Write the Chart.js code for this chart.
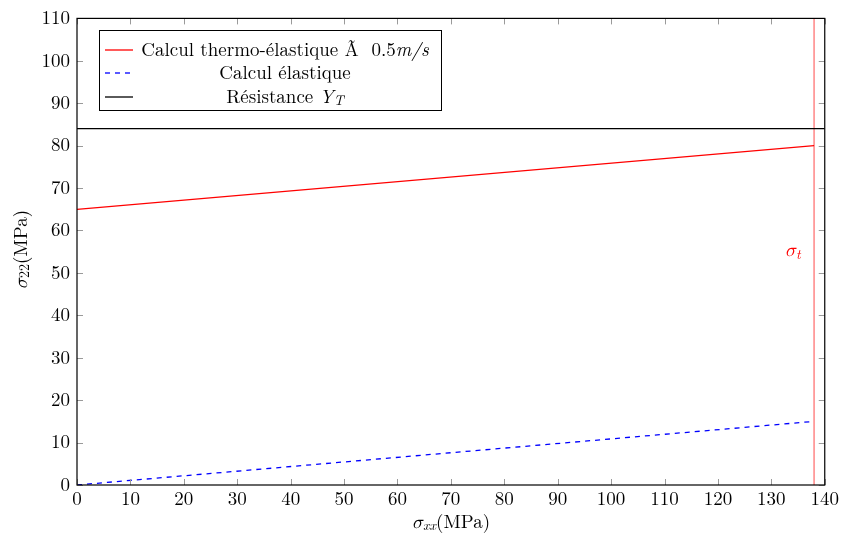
<!DOCTYPE html>
<html><head><meta charset="utf-8">
<script src="https://cdn.jsdelivr.net/npm/chart.js@4"></script>
<style>html,body{margin:0;padding:0;background:#fff}</style>
</head><body>
<canvas id="c" width="842" height="535"></canvas>
<script>
// Data
const thermoX = [0, 138];
const thermoY = [65, 80];
const elasticX = [0, 138];
const elasticY = [0, 15];
const resistanceY = 84;
const sigmaTX = 138;
const xTicks = [0,10,20,30,40,50,60,70,80,90,100,110,120,130,140];
const yTicks = [0,10,20,30,40,50,60,70,80,90,100,110];
const legendLabels = ["Calcul thermo-élastique Ã  0.5", "Calcul élastique", "Résistance"];

const SERIF = "'Latin Modern Roman', 'Latin Modern Math', 'Liberation Serif', serif";
const FS = 19;
const TS = 19;

function drawRich(ctx, segs, cx, cy) {
  let total = 0;
  segs.forEach(s => { ctx.font = s.font; s.w = ctx.measureText(s.t).width; total += s.w; });
  let x = cx - total / 2;
  ctx.textBaseline = 'middle';
  ctx.textAlign = 'left';
  segs.forEach(s => { ctx.font = s.font; ctx.fillText(s.t, x, cy + (s.dy || 0)); x += s.w; });
}
const reg = TS + "px " + SERIF;
const ita = "italic " + TS + "px " + SERIF;
const sub = "italic 14px " + SERIF;
const subR = "14px " + SERIF;

const framePlugin = {
  id: 'frame',
  afterDatasetsDraw(chart) {
    const ctx = chart.ctx, a = chart.chartArea;
    const xs = chart.scales.x, ys = chart.scales.y;
    ctx.save();
    // ticks
    ctx.strokeStyle = '#9a9a9a';
    ctx.lineWidth = 1;
    ctx.beginPath();
    xTicks.forEach(v => {
      const px = Math.round(xs.getPixelForValue(v)) + 0.5;
      ctx.moveTo(px, a.bottom); ctx.lineTo(px, a.bottom - 6);
      ctx.moveTo(px, a.top); ctx.lineTo(px, a.top + 6);
    });
    yTicks.forEach(v => {
      const py = Math.round(ys.getPixelForValue(v)) + 0.5;
      ctx.moveTo(a.left, py); ctx.lineTo(a.left + 6, py);
      ctx.moveTo(a.right, py); ctx.lineTo(a.right - 6, py);
    });
    ctx.stroke();
    // frame
    ctx.strokeStyle = '#000';
    ctx.lineWidth = 1.2;
    ctx.strokeRect(a.left, a.top, a.right - a.left, a.bottom - a.top);

    // sigma_t label
    ctx.fillStyle = '#ff0000';
    const lx = xs.getPixelForValue(134), ly = ys.getPixelForValue(55.3);
    drawRich(ctx, [{t:'σ', font: ita}, {t:'t', font: sub, dy: 4}], lx, ly);

    // legend
    const L = 99, T = 30, R = 441, B = 110;
    ctx.fillStyle = '#fff';
    ctx.fillRect(L, T, R - L, B - T);
    ctx.strokeStyle = '#000';
    ctx.lineWidth = 1;
    ctx.strokeRect(L + 0.5, T + 0.5, R - L, B - T);
    const rows = [50, 73, 97];
    const styles = [{c:'#ff0000', d:[]}, {c:'#0000ff', d:[5,5]}, {c:'#000', d:[]}];
    rows.forEach((y, i) => {
      ctx.beginPath();
      ctx.strokeStyle = styles[i].c;
      ctx.setLineDash(styles[i].d);
      ctx.lineWidth = 1.3;
      ctx.moveTo(105, y); ctx.lineTo(i === 1 ? 130 : 133, y);
      ctx.stroke();
    });
    ctx.setLineDash([]);
    ctx.fillStyle = '#000';
    const cx = 285;
    drawRich(ctx, [{t: legendLabels[0], font: reg}, {t: 'm/s', font: ita}], cx, rows[0]);
    drawRich(ctx, [{t: legendLabels[1], font: reg}], cx, rows[1]);
    drawRich(ctx, [{t: legendLabels[2] + ' ', font: reg}, {t: 'Y', font: ita}, {t: 'T', font: sub, dy: 4}], cx, rows[2]);

    // axis titles
    drawRich(ctx, [{t:'σ', font: ita}, {t:'xx', font: sub, dy: 4}, {t:'(MPa)', font: reg}], (a.left + a.right) / 2, 522);
    ctx.save();
    ctx.translate(21, (a.top + a.bottom) / 2 - 2);
    ctx.rotate(-Math.PI / 2);
    drawRich(ctx, [{t:'σ', font: ita}, {t:'22', font: subR, dy: 4}, {t:'(MPa)', font: reg}], 0, 0);
    ctx.restore();
    ctx.restore();
  }
};

new Chart(document.getElementById('c'), {
  type: 'scatter',
  data: {
    datasets: [
      { data: thermoX.map((x, i) => ({x, y: thermoY[i]})), showLine: true, borderColor: '#ff0000', borderWidth: 1.3, pointRadius: 0 },
      { data: elasticX.map((x, i) => ({x, y: elasticY[i]})), showLine: true, borderColor: '#0000ff', borderDash: [5,5], borderWidth: 1.3, pointRadius: 0 },
      { data: [{x: 0, y: resistanceY}, {x: 140, y: resistanceY}], showLine: true, borderColor: '#000', borderWidth: 1.2, pointRadius: 0 },
      { data: [{x: sigmaTX, y: 0}, {x: sigmaTX, y: 110}], showLine: true, borderColor: 'rgba(255,0,0,0.55)', borderWidth: 1.3, pointRadius: 0 }
    ]
  },
  options: {
    responsive: false,
    animation: false,
    layout: { padding: { left: 0, top: 16, right: 16, bottom: 0 } },
    plugins: { legend: { display: false }, tooltip: { enabled: false } },
    scales: {
      x: {
        type: 'linear', min: 0, max: 140,
        afterFit(s) { s.height = 50; },
        afterBuildTicks(s) { s.ticks = xTicks.map(v => ({value: v})); },
        grid: { display: false, drawTicks: false },
        border: { display: false },
        ticks: { padding: 3, color: '#000', font: { family: SERIF, size: FS }, maxRotation: 0, autoSkip: false }
      },
      y: {
        type: 'linear', min: 0, max: 110,
        afterFit(s) { s.width = 77; },
        afterBuildTicks(s) { s.ticks = yTicks.map(v => ({value: v})); },
        grid: { display: false, drawTicks: false },
        border: { display: false },
        ticks: { padding: 7, color: '#000', font: { family: SERIF, size: FS }, autoSkip: false }
      }
    }
  },
  plugins: [framePlugin]
});
</script>
</body></html>
